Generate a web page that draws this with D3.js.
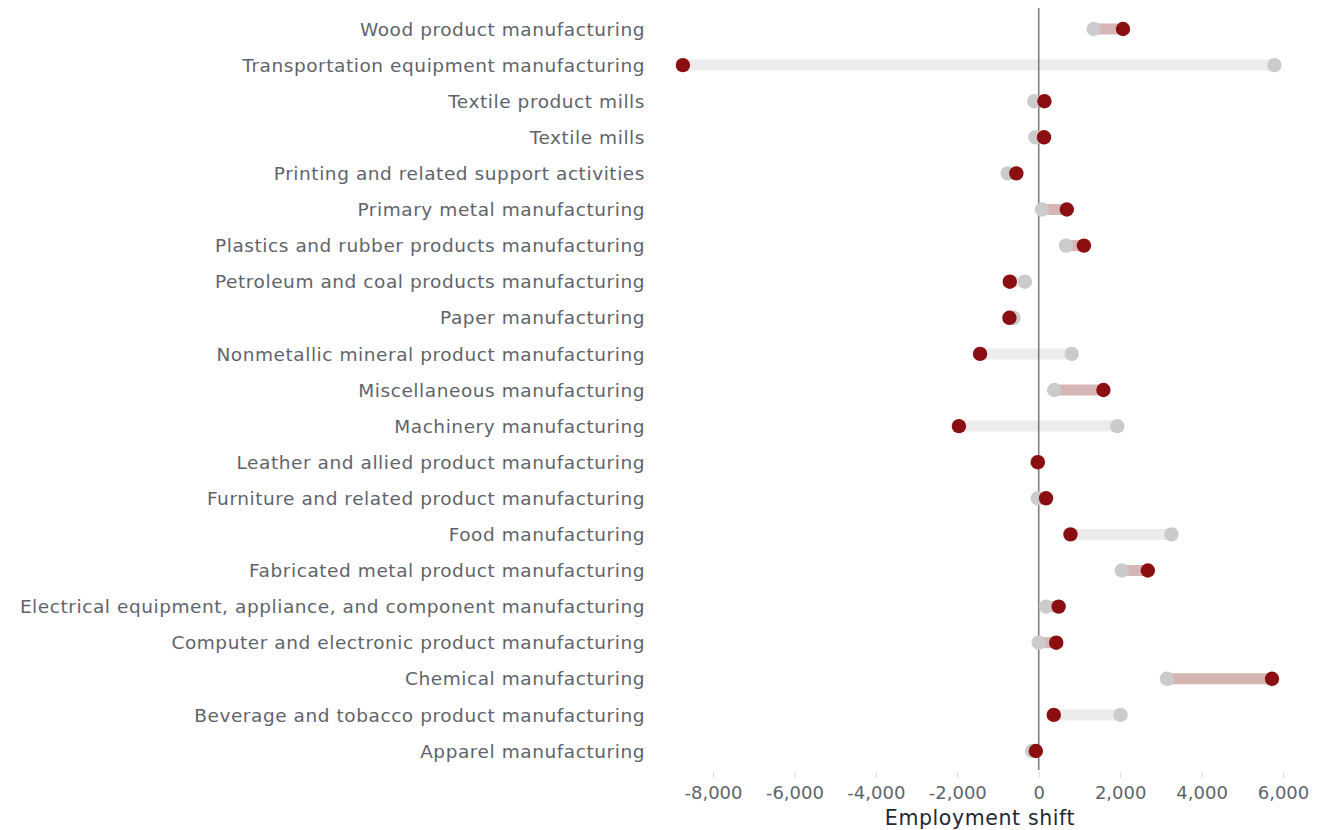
<!DOCTYPE html>
<html><head><meta charset="utf-8">
<script src="https://cdn.jsdelivr.net/npm/d3@7"></script>
<style>
body{margin:0;background:#fff;}
svg{display:block;font-family:"DejaVu Sans", sans-serif;}
</style></head>
<body><svg id="chart" width="1335" height="830"></svg>
<script>
const categories = [
 "Wood product manufacturing",
 "Transportation equipment manufacturing",
 "Textile product mills",
 "Textile mills",
 "Printing and related support activities",
 "Primary metal manufacturing",
 "Plastics and rubber products manufacturing",
 "Petroleum and coal products manufacturing",
 "Paper manufacturing",
 "Nonmetallic mineral product manufacturing",
 "Miscellaneous manufacturing",
 "Machinery manufacturing",
 "Leather and allied product manufacturing",
 "Furniture and related product manufacturing",
 "Food manufacturing",
 "Fabricated metal product manufacturing",
 "Electrical equipment, appliance, and component manufacturing",
 "Computer and electronic product manufacturing",
 "Chemical manufacturing",
 "Beverage and tobacco product manufacturing",
 "Apparel manufacturing"
];
const startValues = [1350, 5790, -110, -80, -760, 80, 670, -340, -620, 810, 380, 1930, -40, -20, 3260, 2040, 180, 0, 3150, 2010, -160];
const endValues   = [2070, -8740, 140, 130, -550, 690, 1110, -710, -720, -1440, 1590, -1960, -20, 180, 780, 2680, 490, 430, 5730, 370, -70];
const xTicks = [-8000, -6000, -4000, -2000, 0, 2000, 4000, 6000];

const svg = d3.select("#chart");
const x = d3.scaleLinear().domain([-8000, 6000]).range([713, 1283]);
const y = d3.scalePoint().domain(categories).range([29, 751]);
const data = categories.map((c,i)=>({c, s:startValues[i], e:endValues[i]}));

// labels
svg.append("g").selectAll("text").data(categories).join("text")
  .attr("x", 645).attr("y", d=>y(d)).attr("dy","0.36em")
  .attr("text-anchor","end").attr("font-size",18.5).attr("letter-spacing","0.56px").attr("fill","#5f646b")
  .text(d=>d);

// segments
svg.append("g").selectAll("line").data(data).join("line")
  .attr("x1", d=>x(d.s)).attr("x2", d=>x(d.e))
  .attr("y1", d=>y(d.c)).attr("y2", d=>y(d.c))
  .attr("stroke", d=> d.e > d.s ? "#d6b5b5" : "#ececec")
  .attr("stroke-width", 11);

// zero line
svg.append("line").attr("x1", x(0)).attr("x2", x(0)).attr("y1", 8).attr("y2", 770)
  .attr("stroke","#7f7f7f").attr("stroke-width",1.6);

// dots
svg.append("g").selectAll("circle").data(data).join("circle")
  .attr("cx", d=>x(d.s)).attr("cy", d=>y(d.c)).attr("r", 7.2).attr("fill","#cbcbcb");
svg.append("g").selectAll("circle").data(data).join("circle")
  .attr("cx", d=>x(d.e)).attr("cy", d=>y(d.c)).attr("r", 7.2).attr("fill","#8b0f10");

// axis
const fmt = d3.format(",");
const axis = d3.axisBottom(x).tickValues(xTicks).tickFormat(d=>fmt(d).replace("\u2212","-")).tickSize(6).tickPadding(8);
const ag = svg.append("g").attr("transform","translate(0,772)").call(axis);
ag.select(".domain").remove();
ag.selectAll(".tick line").attr("stroke","#d9d9d9");
ag.selectAll(".tick text").attr("font-size",18).attr("fill","#5f646b")
  .attr("font-family","'DejaVu Sans', sans-serif");

svg.append("text").attr("x", 980).attr("y", 825).attr("text-anchor","middle")
  .attr("font-size",20.5).attr("letter-spacing","0.6px").attr("fill","#1f2933").text("Employment shift");
</script></body></html>
